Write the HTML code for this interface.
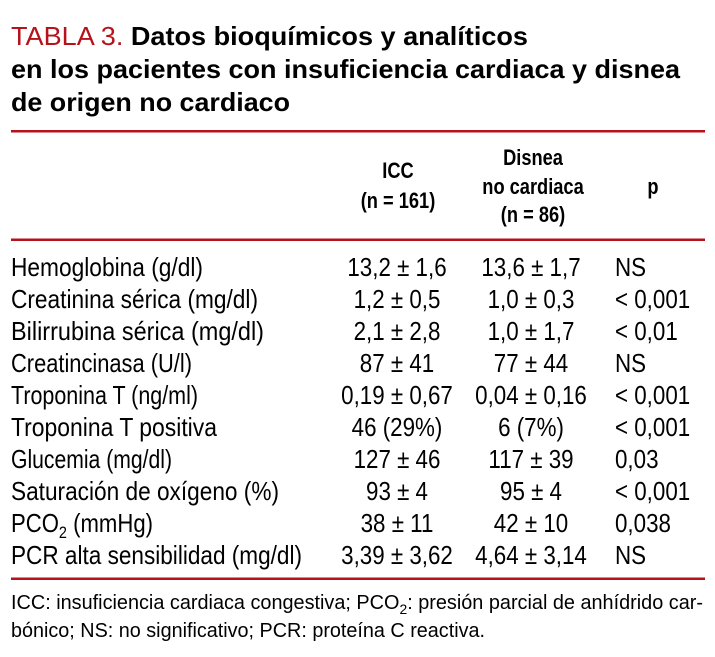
<!DOCTYPE html>
<html><head><meta charset="utf-8"><style>
html,body{margin:0;padding:0;background:#fff;}
svg{display:block;font-family:"Liberation Sans",Arial,sans-serif;}
</style></head><body>
<svg id="tbl" width="715" height="657" viewBox="0 0 715 657" xmlns="http://www.w3.org/2000/svg">
<g font-weight="bold" font-size="26" fill="#000">
<text x="11" y="45" textLength="517" lengthAdjust="spacingAndGlyphs"><tspan fill="#b5121b" font-weight="normal">TABLA 3.</tspan> Datos bioquímicos y analíticos</text>
<text x="11" y="78" textLength="669" lengthAdjust="spacingAndGlyphs">en los pacientes con insuficiencia cardiaca y disnea</text>
<text x="11" y="111" textLength="279" lengthAdjust="spacingAndGlyphs">de origen no cardiaco</text>
</g>
<rect x="11" y="130" width="694" height="2.5" fill="#b5121b"/>
<rect x="11" y="238.5" width="694" height="2.5" fill="#b5121b"/>
<rect x="11" y="577.5" width="694" height="2.5" fill="#b5121b"/>
<g id="hdr"></g>
<g id="rows"></g>
<g font-size="20" fill="#000">
<text x="11" y="609" textLength="692" lengthAdjust="spacingAndGlyphs">ICC: insuficiencia cardiaca congestiva; PCO<tspan font-size="14" dy="5">2</tspan><tspan dy="-5">: presión parcial de anhídrido car-</tspan></text>
<text x="11" y="637" textLength="474" lengthAdjust="spacingAndGlyphs">bónico; NS: no significativo; PCR: proteína C reactiva.</text>
</g>
</svg>
<script>
const labels=["Hemoglobina (g/dl)","Creatinina sérica (mg/dl)","Bilirrubina sérica (mg/dl)","Creatincinasa (U/l)","Troponina T (ng/ml)","Troponina T positiva","Glucemia (mg/dl)","Saturación de oxígeno (%)","PCO2 (mmHg)","PCR alta sensibilidad (mg/dl)"];
const labelWidths=[192,247,253,181,187,206,161,268,142,291];
const iccValues=["13,2 ± 1,6","1,2 ± 0,5","2,1 ± 2,8","87 ± 41","0,19 ± 0,67","46 (29%)","127 ± 46","93 ± 4","38 ± 11","3,39 ± 3,62"];
const disneaValues=["13,6 ± 1,7","1,0 ± 0,3","1,0 ± 1,7","77 ± 44","0,04 ± 0,16","6 (7%)","117 ± 39","95 ± 4","42 ± 10","4,64 ± 3,14"];
const pValues=["NS","< 0,001","< 0,01","NS","< 0,001","< 0,001","0,03","< 0,001","0,038","NS"];
const NS="http://www.w3.org/2000/svg";
function txt(parent,x,y,s,opts){
  const t=document.createElementNS(NS,"text");
  const sx=opts.sx||1;
  t.setAttribute("transform","translate("+x+","+y+") scale("+sx+",1)");
  t.setAttribute("font-size",opts.size);
  if(opts.bold)t.setAttribute("font-weight","bold");
  t.setAttribute("text-anchor",opts.anchor||"start");
  if(opts.len){t.setAttribute("textLength",opts.len);t.setAttribute("lengthAdjust","spacingAndGlyphs");}
  if(s==="PCO2 (mmHg)"){
    t.appendChild(document.createTextNode("PCO"));
    const a=document.createElementNS(NS,"tspan");a.setAttribute("font-size","17");a.setAttribute("dy","6");a.textContent="2";t.appendChild(a);
    const b=document.createElementNS(NS,"tspan");b.setAttribute("dy","-6");b.textContent=" (mmHg)";t.appendChild(b);
  } else t.textContent=s;
  parent.appendChild(t);
  return t;
}
const hdr=document.getElementById("hdr");
const H={size:22,bold:true,anchor:"middle",sx:0.83};
let e;
e=txt(hdr,398,178,"ICC",H);


e=txt(hdr,398,208,"(n = 161)",H);


e=txt(hdr,533,165,"Disnea",H);


e=txt(hdr,533,194,"no cardiaca",H);


e=txt(hdr,533,222,"(n = 86)",H);


e=txt(hdr,653,194,"p",H);


const rows=document.getElementById("rows");
for(let i=0;i<labels.length;i++){
  const y=276+i*32;
  e=txt(rows,11,y,labels[i],{size:26,len:labelWidths[i]});
  
  
  e=txt(rows,397,y,iccValues[i],{size:26,anchor:"middle",sx:0.86});
  
  
  e=txt(rows,531,y,disneaValues[i],{size:26,anchor:"middle",sx:0.86});
  
  
  e=txt(rows,615,y,pValues[i],{size:26,sx:0.86});
  
  
}
</script>
</body></html>
